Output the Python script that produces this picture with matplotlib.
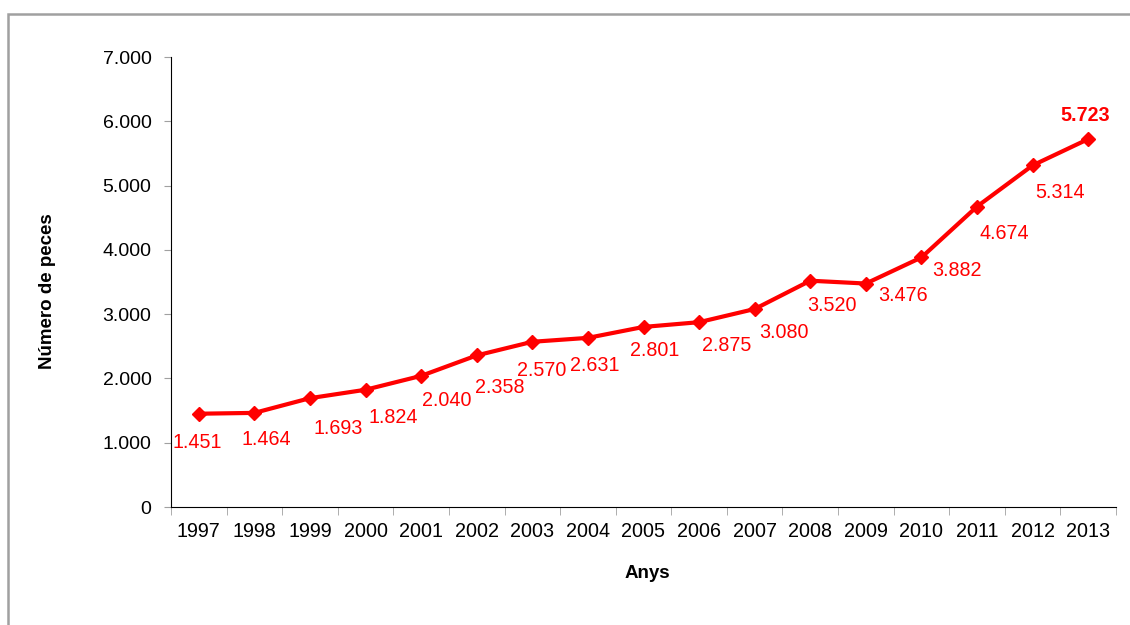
import matplotlib.pyplot as plt
from matplotlib.patches import Rectangle
from matplotlib.ticker import FuncFormatter, FixedLocator

plt.rcParams['font.family'] = ['Liberation Sans', 'DejaVu Sans']

years = ['1997', '1998', '1999', '2000', '2001', '2002', '2003', '2004', '2005',
         '2006', '2007', '2008', '2009', '2010', '2011', '2012', '2013']
peces = [1451, 1464, 1693, 1824, 2040, 2358, 2570, 2631, 2801,
         2875, 3080, 3520, 3476, 3882, 4674, 5314, 5723]

# label offsets in pixels (dx, dy), hand placed like in the original
label_offsets = [(-2, -29), (12, -27), (28, -30), (28, -28), (26, -25), (23, -32),
                 (9, -29), (7, -28), (11, -24), (28, -23), (29, -23), (22, -25),
                 (37, -12), (36, -13), (27, -27), (27, -27), (-3, 24)]

red = '#FF0000'

fig = plt.figure(figsize=(11.3, 6.25), dpi=100)
fig.patches.append(Rectangle((8 / 1130, -0.2), 1.5, 1.2 - 14 / 625,
                             transform=fig.transFigure, fill=False,
                             edgecolor='#A0A0A0', linewidth=1.8))
ax = fig.add_axes([171 / 1130, 1 - 507 / 625, (1116 - 171) / 1130, (507 - 57) / 625])

x = list(range(len(years)))
ax.plot(x, peces, color=red, linewidth=3, marker='D', markersize=7,
        markeredgecolor=red, markerfacecolor=red, clip_on=False, zorder=3)

for i, (v, (dx, dy)) in enumerate(zip(peces, label_offsets)):
    last = i == len(peces) - 1
    ax.annotate(f'{v:,}'.replace(',', '.'), (i, v), xytext=(dx, dy),
                textcoords='offset pixels', ha='center', va='center',
                color=red, fontsize=14.2, fontweight='bold' if last else 'normal')

ax.set_xlim(-0.5, len(years) - 0.5)
ax.set_ylim(0, 7000)
ax.set_yticks(range(0, 7001, 1000))
ax.yaxis.set_major_formatter(FuncFormatter(lambda v, p: f'{int(v):,}'.replace(',', '.')))
ax.set_xticks(x)
ax.set_xticklabels(years)
ax.xaxis.set_minor_locator(FixedLocator([i - 0.5 for i in range(len(years) + 1)]))

ax.tick_params(axis='x', which='major', length=0, pad=11, labelsize=14.2)
ax.tick_params(axis='x', which='minor', length=6, color='#A0A0A0', direction='out')
ax.tick_params(axis='y', length=5, color='#A0A0A0', direction='out', pad=9, labelsize=14)

for s in ['top', 'right']:
    ax.spines[s].set_visible(False)
ax.spines['left'].set_color('black')
ax.spines['bottom'].set_color('black')

ax.set_xlabel('Anys', fontweight='bold', fontsize=13.5, va='center')
ax.set_ylabel('Número de peces', fontweight='bold', fontsize=13.5, va='center')
ax.xaxis.set_label_coords(0.5 + 4 / 945, (507 - 573) / 450)
ax.yaxis.set_label_coords((48 - 171) / 945, (507 - 291) / 450)

fig.savefig('out.png', dpi=100)
